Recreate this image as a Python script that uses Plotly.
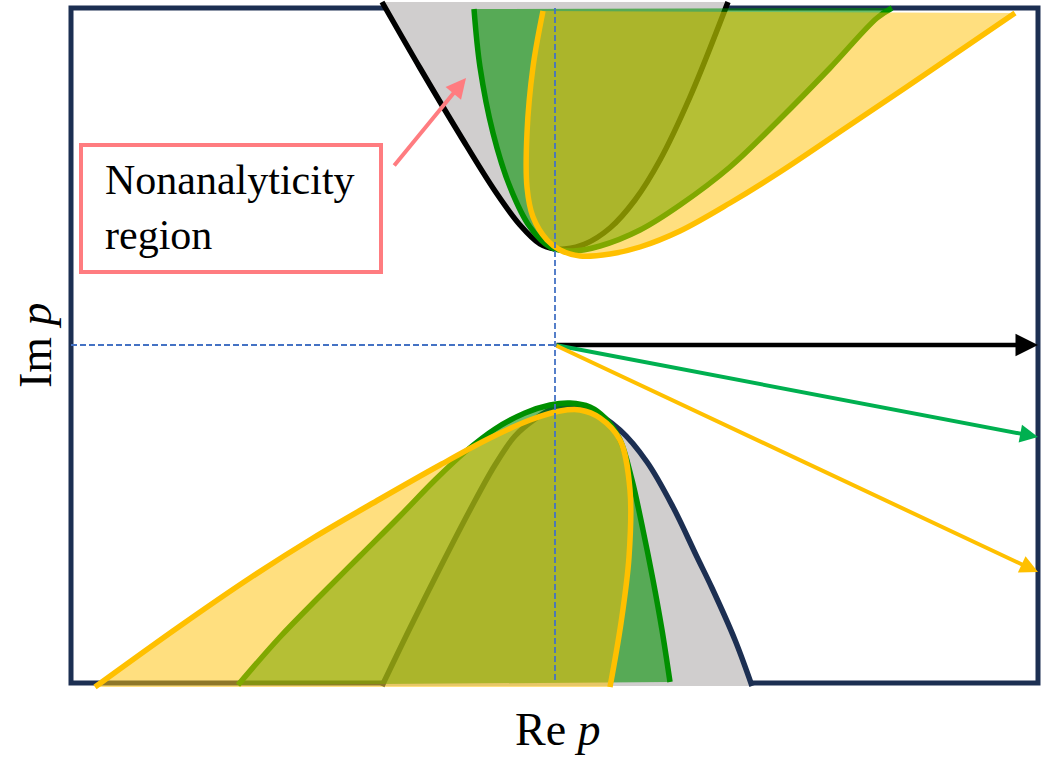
import plotly.graph_objects as go

# ---- Region boundaries in the complex p plane (Re p, Im p) ----
# Upper half-plane
up_gray_re = [-1.73, -1.35, -0.95, -0.60, -0.35, -0.15, 0.00, 0.10, 0.30, 0.55, 0.80, 1.05, 1.35, 1.73]
up_gray_im = [3.43, 2.77, 2.10, 1.54, 1.20, 1.01, 0.96, 0.96, 1.01, 1.17, 1.45, 1.85, 2.48, 3.43]

up_green_re = [-0.81, -0.75, -0.62, -0.45, -0.25, -0.05, 0.18, 0.45, 0.85, 1.25, 1.75, 2.25, 2.75, 3.22, 3.37]
up_green_im = [3.36, 2.78, 2.12, 1.58, 1.18, 0.98, 0.94, 0.99, 1.15, 1.40, 1.78, 2.26, 2.77, 3.27, 3.37]

up_yellow_re = [-0.12, -0.22, -0.28, -0.28, -0.22, -0.08, 0.05, 0.25, 0.55, 0.85, 1.25, 1.75, 2.25, 2.92, 3.75, 4.60]
up_yellow_im = [3.34, 2.78, 2.12, 1.58, 1.28, 1.05, 0.95, 0.89, 0.91, 0.98, 1.14, 1.42, 1.73, 2.18, 2.74, 3.32]

# Lower half-plane
lo_gray_re = [-1.73, -1.45, -1.15, -0.85, -0.60, -0.40, -0.20, -0.03, 0.12, 0.35, 0.65, 0.92, 1.18, 1.42, 1.57, 1.80, 1.97]
lo_gray_im = [-3.41, -2.83, -2.23, -1.65, -1.20, -0.91, -0.74, -0.64, -0.60, -0.65, -0.85, -1.17, -1.62, -2.12, -2.43, -2.95, -3.41]

lo_green_re = [-3.17, -2.75, -2.35, -1.95, -1.55, -1.20, -0.90, -0.60, -0.30, -0.05, 0.15, 0.35, 0.50, 0.65, 0.77, 0.88, 0.98, 1.07, 1.15]
lo_green_im = [-3.40, -2.92, -2.51, -2.11, -1.71, -1.35, -1.07, -0.84, -0.68, -0.60, -0.58, -0.62, -0.73, -0.95, -1.35, -1.85, -2.35, -2.85, -3.37]

lo_yellow_re = [-4.60, -3.75, -3.05, -2.42, -1.75, -1.15, -0.65, -0.25, 0.05, 0.25, 0.45, 0.65, 0.75, 0.74, 0.66, 0.55]
lo_yellow_im = [-3.42, -2.81, -2.33, -1.93, -1.54, -1.20, -0.93, -0.75, -0.66, -0.65, -0.73, -0.95, -1.45, -2.12, -2.78, -3.42]

# Direction rays from the origin (end points)
ray_names = ["black", "green", "yellow"]
ray_end_re = [4.83, 4.83, 4.83]
ray_end_im = [0.00, -0.92, -2.27]

# Plot window (frame of the p plane)
frame_re = [-4.84, 4.83]
frame_im = [-3.38, 3.37]

# ---- Styles ----
GRAY = "#d0cece"
GREEN_LINE = "#009000"
GREEN_FILL = "rgba(0,144,0,0.58)"
YELLOW_LINE = "#ffc000"
YELLOW_FILL = "rgba(255,192,0,0.5)"
NAVY = "#1c2f52"
PINK = "#ff7c80"
DASH_BLUE = "#4472c4"
SERIF = "Times New Roman, Liberation Serif, serif"
LW = 5.5

fig = go.Figure()


def region(re, im, line_color, fill_color):
    fig.add_trace(go.Scatter(
        x=re, y=im, mode="lines", fill="toself", fillcolor=fill_color,
        line=dict(color=line_color, width=LW, shape="spline", smoothing=1.0),
        hoverinfo="skip", showlegend=False,
    ))


# upper half-plane: gray, green, yellow
region(up_gray_re, up_gray_im, "black", GRAY)
region(up_green_re, up_green_im, GREEN_LINE, GREEN_FILL)
region(up_yellow_re, up_yellow_im, YELLOW_LINE, YELLOW_FILL)
# lower half-plane
region(lo_gray_re, lo_gray_im, NAVY, GRAY)
region(lo_green_re, lo_green_im, GREEN_LINE, GREEN_FILL)
region(lo_yellow_re, lo_yellow_im, YELLOW_LINE, YELLOW_FILL)

# dashed axes through the origin
fig.add_trace(go.Scatter(
    x=[frame_re[0], 0], y=[0, 0], mode="lines",
    line=dict(color=DASH_BLUE, width=1.8, dash="6px,3px"),
    hoverinfo="skip", showlegend=False))
fig.add_trace(go.Scatter(
    x=[0, 0], y=[frame_im[1], frame_im[0]], mode="lines",
    line=dict(color=DASH_BLUE, width=1.8, dash="6px,3px"),
    hoverinfo="skip", showlegend=False))

# frame of the plane (under the regions)
fig.add_shape(type="rect", xref="x", yref="y",
              x0=frame_re[0], x1=frame_re[1], y0=frame_im[0], y1=frame_im[1],
              line=dict(color=NAVY, width=5), layer="below")

# rays from the origin
ray_colors = {"black": "black", "green": "#00b050", "yellow": YELLOW_LINE}
ray_widths = {"black": 4.5, "green": 4, "yellow": 4}
ray_sizes = {"black": 1.0, "green": 0.9, "yellow": 0.9}
for name, xe, ye in zip(ray_names, ray_end_re, ray_end_im):
    fig.add_annotation(
        x=xe, y=ye, ax=0, ay=0, xref="x", yref="y", axref="x", ayref="y",
        text="", showarrow=True, arrowhead=2, arrowsize=ray_sizes[name],
        arrowwidth=ray_widths[name], arrowcolor=ray_colors[name])

# label box with pointer
fig.add_shape(type="rect", xref="x", yref="y",
              x0=-4.74, x1=-1.74, y0=0.73, y1=2.00,
              line=dict(color=PINK, width=4), fillcolor="white", layer="above")
fig.add_annotation(
    x=-4.52, y=1.38, xref="x", yref="y", xanchor="left", yanchor="middle",
    align="left", showarrow=False, text="Nonanalyticity<br>region",
    font=dict(family=SERIF, size=42, color="black"))
fig.add_annotation(
    x=-0.89, y=2.67, ax=-1.62, ay=1.78, xref="x", yref="y", axref="x", ayref="y",
    text="", showarrow=True, arrowhead=2, arrowsize=1.0, arrowwidth=4,
    arrowcolor=PINK)

# axis titles
fig.add_annotation(
    x=-5.20, y=0.0, xref="x", yref="y", showarrow=False, textangle=-90,
    text="Im <i>p</i>", font=dict(family=SERIF, size=46, color="black"))
fig.add_annotation(
    x=0.03, y=-4.12, xref="x", yref="y", showarrow=False, yanchor="bottom",
    text="Re <i>p</i>", font=dict(family=SERIF, size=46, color="black"))

fig.update_layout(
    width=1046, height=758,
    margin=dict(l=0, r=0, t=0, b=0),
    paper_bgcolor="white", plot_bgcolor="white",
    xaxis=dict(range=[-5.55, 4.91], visible=False, fixedrange=True),
    yaxis=dict(range=[-4.13, 3.45], visible=False, fixedrange=True),
    showlegend=False,
)

fig.write_html("out.html", config={"displayModeBar": False})
